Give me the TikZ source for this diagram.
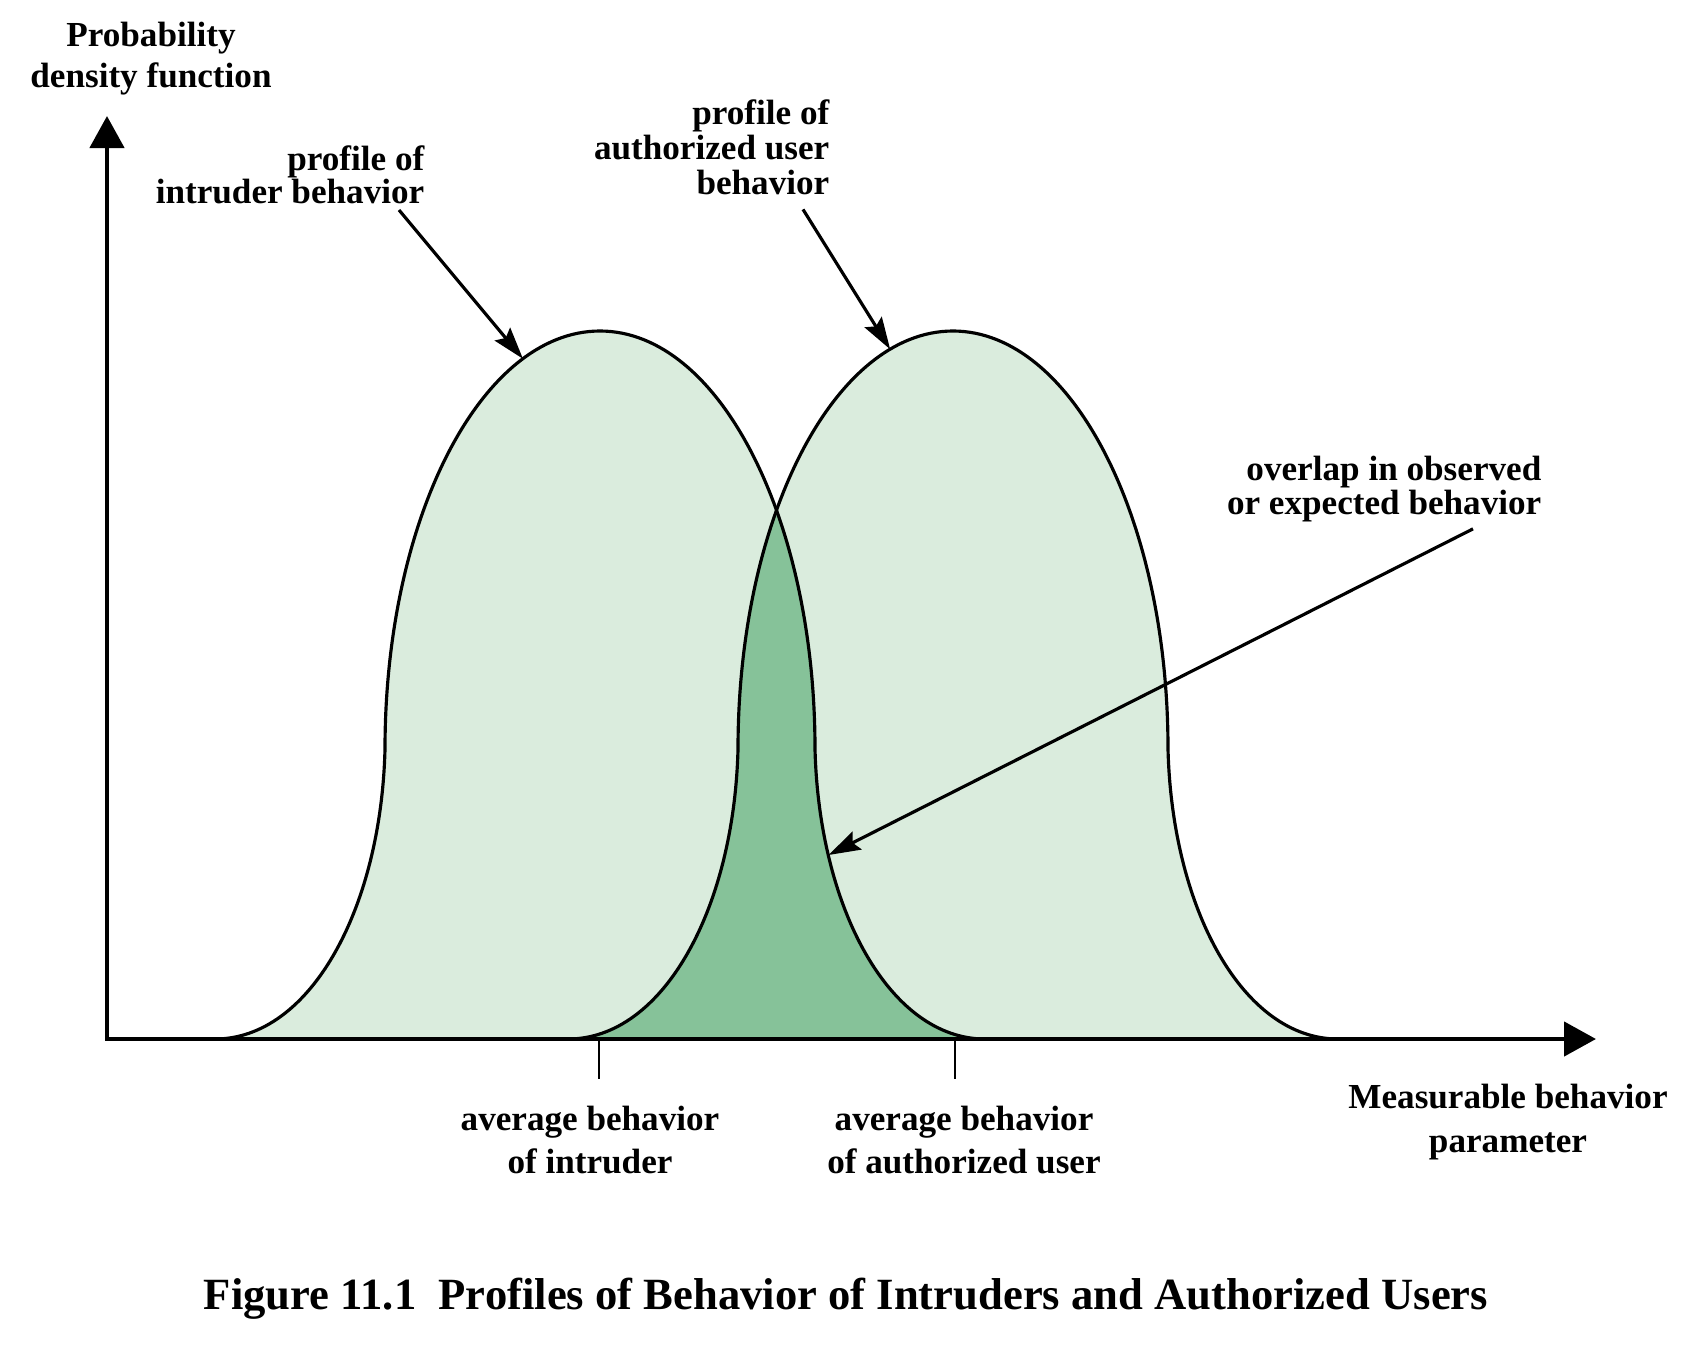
\documentclass[tikz,border=0pt]{standalone}
\usepackage{fontspec}
\setmainfont{Liberation Serif}
\usetikzlibrary{arrows.meta,calc}

\definecolor{bellfill}{RGB}{218,236,221}
\definecolor{overlapfill}{RGB}{134,194,153}

\tikzset{bell/.style={insert path={(#1-3.85,0) .. controls (#1-2.9,0) and (#1-2.19,1.3) .. (#1-2.15,2.9)
      arc[start angle=180,end angle=0,x radius=2.15,y radius=4.18]
      .. controls (#1+2.19,1.3) and (#1+2.9,0) .. (#1+3.85,0)}}}

\begin{document}
\begin{tikzpicture}[lbl/.style={font=\bfseries\fontsize{10}{12}\selectfont,align=center,inner sep=0pt},
  axis/.style={line width=1.3pt,{Triangle[width=0.34cm,length=0.32cm]}-{Triangle[width=0.34cm,length=0.32cm]}},
  ptr/.style={line width=0.9pt,-{Stealth[length=0.32cm,width=0.2cm,inset=0.05cm]}},
  curve/.style={line width=0.9pt}]

\useasboundingbox (-1.07,-3.05) rectangle (15.76,10.39);

% the two profiles
\fill[bellfill,bell=4.93] -- cycle;
\fill[bellfill,bell=8.46] -- cycle;
\begin{scope}
  \path[clip,bell=4.93] -- cycle;
  \fill[overlapfill,bell=8.46] -- cycle;
\end{scope}
\draw[curve,bell=4.93];
\draw[curve,bell=8.46];

% axes
\coordinate (O) at (0,0);
\coordinate (ytip) at (0,9.23);
\coordinate (xtip) at (14.89,0);
\draw[axis] (ytip) -- (O) -- (xtip);
\draw[line width=0.8pt] (4.92,0) -- (4.92,-0.40);
\draw[line width=0.8pt] (8.48,0) -- (8.48,-0.40);

\node[lbl,font=\bfseries\fontsize{10}{11.7}\selectfont] (pdf) at (0.44,9.80) {Probability\\density function};
\node[lbl,align=right,anchor=east,font=\bfseries\fontsize{10}{9.5}\selectfont] (intr) at (3.18,8.64) {profile of\\intruder behavior};
\node[lbl,align=right,anchor=east,font=\bfseries\fontsize{10}{10}\selectfont] (auth) at (7.23,8.92) {profile of\\authorized user\\behavior};
\node[lbl,align=right,anchor=east,font=\bfseries\fontsize{10}{9.8}\selectfont] (ovl) at (14.35,5.50) {overlap in observed\\or expected behavior};
\node[lbl] (avgi) at (4.83,-1.01) {average behavior\\of intruder};
\node[lbl] (avga) at (8.57,-1.01) {average behavior\\of authorized user};
\node[lbl,font=\bfseries\fontsize{10}{12.5}\selectfont] (param) at (14.01,-0.83) {Measurable behavior\\parameter};
\node[lbl,font=\bfseries\fontsize{12.7}{15}\selectfont] (cap) at (7.39,-2.60) {Figure 11.1\ \ Profiles of Behavior of Intruders and Authorized Users};

% pointers
\coordinate (tipi) at ($(4.93,2.9)+(111:2.15 and 4.18)$);
\coordinate (tipa) at ($(8.46,2.9)+(107:2.15 and 4.18)$);
\coordinate (tipo) at (7.215,1.84);
\draw[ptr] ([shift={(-0.26,-0.05)}]intr.south east) -- (tipi);
\draw[ptr] ([shift={(-0.27,-0.14)}]auth.south east) -- (tipa);
\draw[ptr] ([shift={(-0.69,-0.06)}]ovl.south east) -- (tipo);

\end{tikzpicture}
\end{document}
